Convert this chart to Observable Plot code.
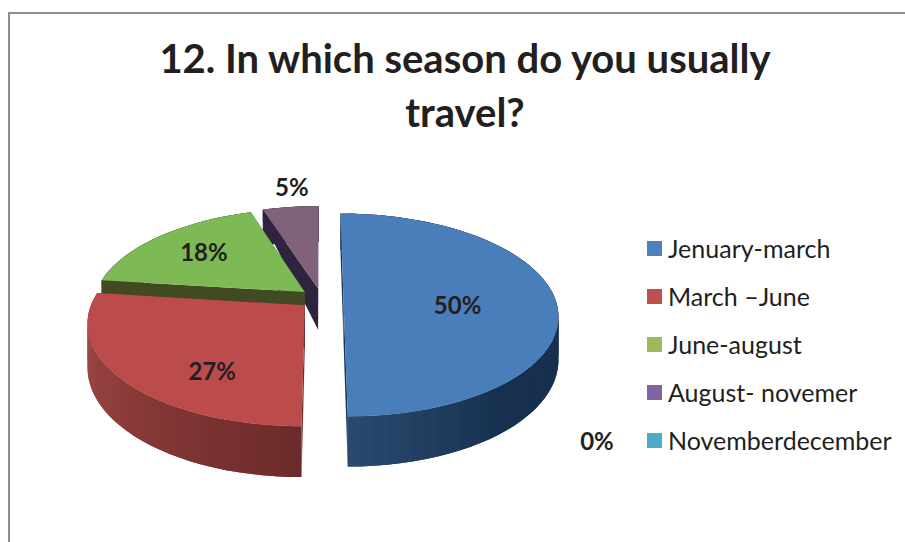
<!DOCTYPE html>
<html>
<head>
<meta charset="utf-8">
<script src="https://cdn.jsdelivr.net/npm/d3@7"></script>
<script src="https://cdn.jsdelivr.net/npm/@observablehq/plot@0.6"></script>
<style>
  html, body { margin: 0; padding: 0; background: #fff; width: 905px; height: 542px; overflow: hidden; }
  body { position: relative; font-family: Lato, "Open Sans", sans-serif; color: #231f20; }
  #frame { position: absolute; left: 8px; top: 12px; right: 0; bottom: 0; border-left: 2px solid #8e8e8e; border-top: 2px solid #8e8e8e; }
  #title { position: relative; box-sizing: border-box; width: 905px; height: 150px; padding: 31px 0 0 25px; text-align: center; font-weight: 700; font-size: 40px; line-height: 54px; }
  #row { position: relative; display: flex; }
  #legend { margin-left: 7px; padding-top: 74px; font-size: 25px; }
  #legend .item { height: 48px; display: flex; align-items: center; white-space: nowrap; }
  #legend .sw { width: 15px; height: 15px; margin-right: 6px; flex: none; }
  svg { display: block; }
</style>
</head>
<body>
<div id="frame"></div>
<div id="title">12. In which season do you usually<br>travel?</div>
<div id="row"><div id="chart"></div><div id="legend"></div></div>
<script>
const categories = ["Jenuary-march", "March –June", "June-august", "August- novemer", "Novemberdecember"];
const shares = [50, 27, 18, 5, 0];
const percentLabels = ["50%", "27%", "18%", "5%", "0%"];
const legendColors = ["#4f81bd", "#c0504d", "#9bbb59", "#8064a2", "#4bacc6"];
const topColors = ["#4a7ebb", "#bc4c4b", "#7db955", "#80627a", "#4bacc6"];
const faceColors = ["#1b3550", "#6b2a2a", "#414a22", "#2f2440", "#2a6a7c"];
const wallColors = [
  ["#1b324b", "#17304f", "#2a4a6e"],
  ["#6b2a2a", "#8c3c39", "#a64c48"],
  ["#414a22", "#414a22", "#414a22"],
  ["#2f2440", "#2f2440", "#2f2440"],
  ["#2a6a7c", "#2a6a7c", "#2a6a7c"]
];
const wallStopFractions = [0.78, 0.5, 0.5, 0.5, 0.5];
const labelAngles = [97.2, 214.7, 309.6, 352.8, 138.2];
const labelRadii = [0.64, 0.81, 0.78, 1.37, 1.58];

// projection of the tilted pie plane onto the picture
const cx = 321, cy = 148, rx = 211.5, ry = 98.8, persp = 0.1625, explode = 0.104, depth = 42;
const rad = d => d * Math.PI / 180;
const scale = v => 1 / (1 + persp * v);
const project = (u, v, drop = 0) => ({
  x: cx + rx * u * scale(v),
  y: cy - ry * v * scale(v) + drop * scale(v)
});

// cumulative angles, clockwise from the top
const edges = d3.cumsum([0, ...shares]).map(s => s * 3.6);
const slices = shares.map((s, i) => {
  const a0 = edges[i], a1 = edges[i + 1], mid = (a0 + a1) / 2;
  return {i, a0, a1, mid, ou: explode * Math.sin(rad(mid)), ov: explode * Math.cos(rad(mid))};
}).filter(d => d.a1 > d.a0);

const rim = (s, a) => [s.ou + Math.sin(rad(a)), s.ov + Math.cos(rad(a))];

const rows = [];
let pid = 0;
function poly(points, fill) {
  const id = pid++;
  for (const p of [...points, points[0]]) rows.push({x: p.x, y: p.y, id, fill});
}
// back-to-front
for (const s of [...slices].sort((a, b) => b.i - a.i)) {
  const n = Math.max(2, Math.ceil((s.a1 - s.a0) / 3));
  const angles = d3.range(n + 1).map(k => s.a0 + (s.a1 - s.a0) * k / n);
  const shade = d3.scaleLinear()
    .domain([s.a0, s.a0 + (s.a1 - s.a0) * wallStopFractions[s.i], s.a1])
    .range(wallColors[s.i]);
  const apexTop = project(s.ou, s.ov), apexLow = project(s.ou, s.ov, depth);
  // radial faces (the far corner of the small slice's face closes up in the reference)
  const outerDrop = s.i === 3 ? 13 : depth;
  for (const a of [s.a0, s.a1]) {
    const [u, v] = rim(s, a);
    poly([apexTop, project(u, v), project(u, v, outerDrop), apexLow], faceColors[s.i]);
  }
  // curved wall, strips overlap the next one so no seams show
  for (let k = 0; k < n; k++) {
    const steps = [angles[k], angles[Math.min(k + 1, n)], angles[Math.min(k + 2, n)]];
    const outer = steps.map(t => project(...rim(s, t)));
    const inner = steps.map(t => project(...rim(s, t), depth)).reverse();
    poly([...outer, ...inner], shade((angles[k] + angles[k + 1]) / 2));
  }
  // top
  poly([apexTop, ...angles.map(a => project(...rim(s, a)))], topColors[s.i]);
}

const labels = percentLabels.map((text, i) => {
  const u = labelRadii[i] * Math.sin(rad(labelAngles[i]));
  const v = labelRadii[i] * Math.cos(rad(labelAngles[i]));
  return {text, ...project(u, v)};
});

const plot = Plot.plot({
  width: 640, height: 392, margin: 0,
  style: {background: "transparent"},
  x: {domain: [0, 640], range: [0, 640], axis: null},
  y: {domain: [0, 392], range: [0, 392], axis: null},
  color: {type: "identity"},
  marks: [
    Plot.line(rows, {x: "x", y: "y", z: "id", fill: "fill", stroke: "none", curve: "linear"}),
    Plot.text(labels, {x: "x", y: "y", text: "text", fontSize: 24, fontWeight: 700, fontFamily: "Lato", fill: "#231f20"})
  ]
});
document.getElementById("chart").append(plot);

const legend = d3.select("#legend");
categories.forEach((c, i) => {
  const item = legend.append("div").attr("class", "item");
  item.append("div").attr("class", "sw").style("background", legendColors[i]);
  item.append("span").text(c);
});
</script>
</body>
</html>
